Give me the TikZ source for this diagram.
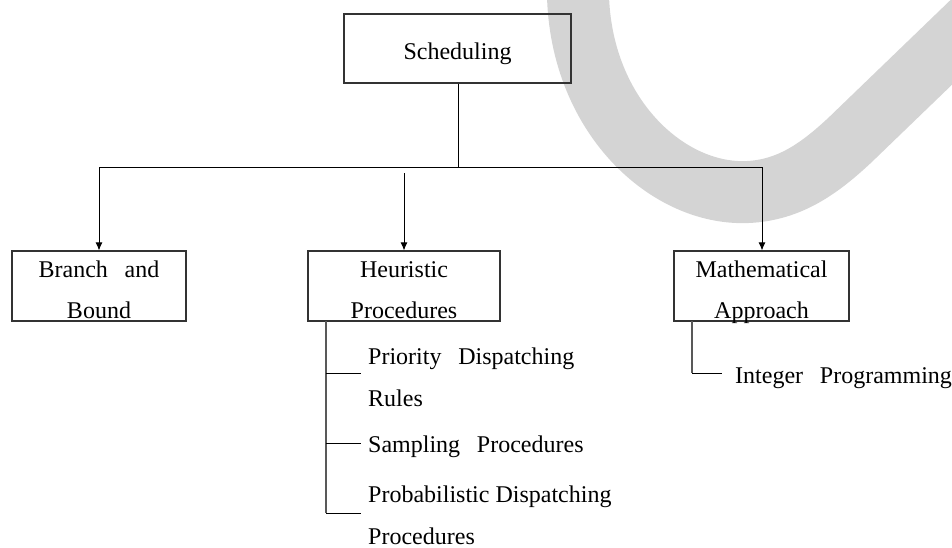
\documentclass[tikz,border=0pt]{standalone}
\usepackage{fontspec}
\setmainfont{Liberation Serif}
\usetikzlibrary{arrows.meta,calc}
\begin{document}
\begin{tikzpicture}[x=1pt,y=-1pt,
  box/.style={draw=black!80,line width=1.1pt,rectangle,inner sep=0pt},
  boxtext/.style={inner sep=0pt,align=center,font=\fontsize{24}{41}\selectfont},
  leaf/.style={anchor=west,inner sep=0pt,align=left,font=\fontsize{24}{42}\selectfont},
  link/.style={draw=black,line width=1pt},
  trunk/.style={draw=black!65,line width=1.5pt},
  arr/.style={link,-{Latex[length=8pt,width=7pt]}},
  band/.style={draw=black!17,line width=62pt}]
\useasboundingbox (0,0) rectangle (952,547);

% light grey swoosh behind the chart
\begin{scope}
\clip (0,0) rectangle (952,547);
\draw[band] (578,-20) .. controls (574,110) and (665,196) .. (748,192)
  .. controls (790,190) and (820,168) .. (850,140) -- (990,5);
\end{scope}

% boxes
\node[box,minimum width=227pt,minimum height=69pt] (sched) at (457.5,48.5) {};
\node[box,minimum width=174pt,minimum height=70pt] (bb) at (99,286) {};
\node[box,minimum width=192pt,minimum height=70pt] (heur) at (404,286) {};
\node[box,minimum width=175pt,minimum height=70pt] (math) at (761.5,286) {};

% box captions
\node[boxtext] (schedtxt) at ($(sched.center)+(0,5)$) {Scheduling};
\node[boxtext] (bbtxt) at ($(bb.center)+(0,4)$) {Branch\hspace{0.7em}and\\Bound};
\node[boxtext] (heurtxt) at ($(heur.center)+(0,4)$) {Heuristic\\Procedures};
\node[boxtext] (mathtxt) at ($(math.center)+(0,6)$) {Mathematical\\Approach};

% leaves
\node[leaf] (pdr) at (368,377) {Priority\hspace{0.7em}Dispatching\\Rules};
\node[leaf] (sp) at (368,447) {Sampling\hspace{0.7em}Procedures};
\node[leaf] (prob) at (368,515) {Probabilistic Dispatching\\Procedures};
\node[leaf] (ip) at (735,378) {Integer\hspace{0.7em}Programming};

% top-level connectors
\coordinate (bus) at (458,167);
\coordinate (busL) at (99,167);
\coordinate (busR) at (762,167);
\coordinate (midtop) at (404,173);
\draw[link] (sched.south -| bus) -- (bus);
\draw[link] (busL) -- (busR);
\draw[arr] (busL) -- (bb.north);
\draw[arr] (midtop) -- (heur.north);
\draw[arr] (busR) -- (busR |- math.north);

% heuristic sub-branches
\coordinate (ht) at (326,321);
\coordinate (t1) at (361,373);
\coordinate (t2) at (361,443);
\coordinate (t3) at (361,513);
\draw[trunk] (ht) -- (ht |- t3);
\draw[link] (ht |- t1) -- (t1);
\draw[link] (ht |- t2) -- (t2);
\draw[link] (ht |- t3) -- (t3);

% mathematical sub-branch
\coordinate (mt) at (692,321);
\coordinate (t4) at (722,373);
\draw[trunk] (mt) -- (mt |- t4);
\draw[link] (mt |- t4) -- (t4);
\end{tikzpicture}
\end{document}
